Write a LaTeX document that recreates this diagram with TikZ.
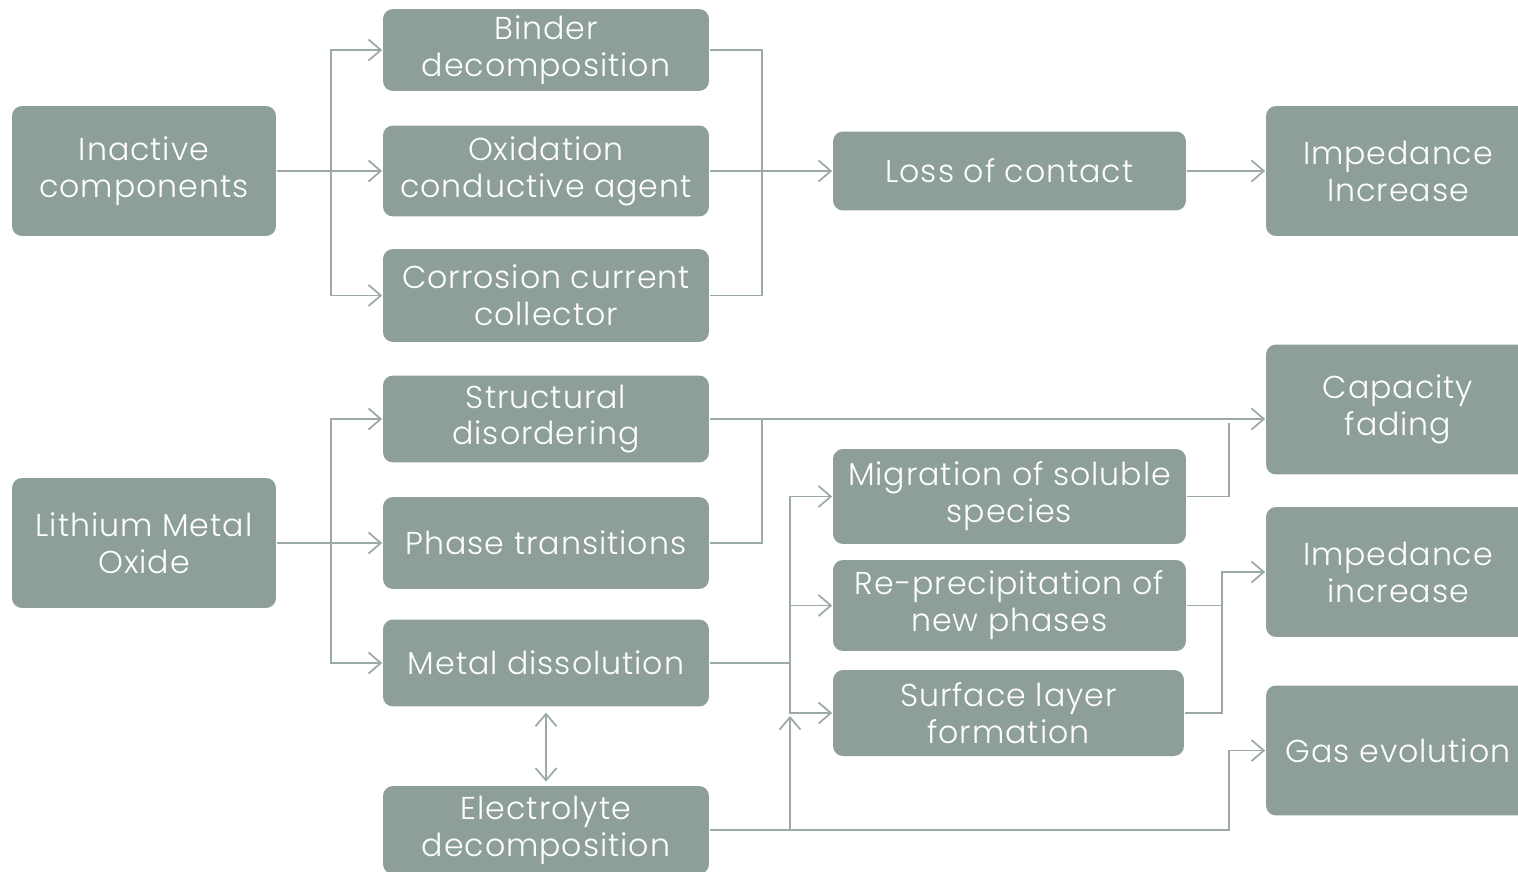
\documentclass[tikz,border=0pt]{standalone}
\usepackage{fontspec}
\setmainfont{Poppins}[UprightFont=* Light,LetterSpace=3]
\usetikzlibrary{arrows.meta}
\definecolor{boxgray}{HTML}{8E9E99}
\definecolor{linegray}{HTML}{9BAAA5}

\begin{document}
\begin{tikzpicture}[x=0.02cm,y=-0.02cm,->,>={Straight Barb[length=7pt,width=12pt]},
  line width=1pt,color=linegray,
  box node/.style={rectangle,rounded corners=0.2cm,fill=boxgray,text=white,align=center,
    inner sep=0pt,font=\fontsize{18}{21}\selectfont},
  side node/.style={box node,minimum width=5.28cm,minimum height=2.6cm},
  mid node/.style={box node,minimum width=6.52cm,minimum height=1.76cm},
  wide node/.style={box node,minimum width=7.06cm,minimum height=1.82cm}]
  \useasboundingbox (0,0) rectangle (1518,872);
  \clip (0,0) rectangle (1518,872);

  \node[side node] (inac) at (144,171) {Inactive\\components};
  \node[mid node,minimum height=1.64cm] (bind) at (546,50) {Binder\\decomposition};
  \node[mid node,minimum height=1.82cm] (oxid) at (546,171) {Oxidation\\conductive agent};
  \node[mid node,minimum height=1.86cm] (corr) at (546,295.5) {Corrosion current\\collector};
  \node[wide node,minimum height=1.58cm] (loss) at (1009.5,171) {Loss of contact};
  \node[side node] (imp1) at (1398,171) {Impedance\\Increase};

  \node[side node] (lmo) at (144,543) {Lithium Metal\\Oxide};
  \node[mid node,minimum height=1.74cm] (struc) at (546,419) {Structural\\disordering};
  \node[mid node,minimum height=1.84cm] (phase) at (546,543) {Phase transitions};
  \node[mid node,minimum height=1.74cm] (metal) at (546,663) {Metal dissolution};
  \node[mid node] (elec) at (546,830) {Electrolyte\\decomposition};
  \node[wide node,minimum height=1.9cm] (migr) at (1009.5,496.5) {Migration of soluble\\species};
  \node[wide node] (repr) at (1009.5,605.5) {Re-precipitation of\\new phases};
  \node[wide node,minimum height=1.72cm,minimum width=7.02cm] (surf) at (1008.5,713) {Surface layer\\formation};
  \node[side node] (cap) at (1398,409.5) {Capacity\\fading};
  \node[side node] (imp2) at (1398,572) {Impedance\\increase};
  \node[side node] (gas) at (1398,750.5) {Gas evolution};

  \coordinate (a1) at (331,171);
  \coordinate (a2) at (762,171);
  \coordinate (b1) at (331,543);
  \coordinate (b2) at (762,419);
  \coordinate (b3) at (790,663);
  \coordinate (b4) at (790,716);
  \coordinate (b5) at (1229,423);
  \coordinate (b6) at (1222,572);
  \coordinate (b7) at (1229,830);

  \draw (inac) -- (oxid);
  \draw (a1) |- (bind);
  \draw (a1) |- (corr);
  \draw[-] (bind.east) -| (a2) |- (corr.east);
  \draw (oxid) -- (loss);
  \draw (loss) -- (imp1);

  \draw (lmo) -- (phase);
  \draw (b1) |- (struc);
  \draw (b1) |- (metal);
  \draw (struc.east) -- (struc.east -| cap.west);
  \draw[-] (phase.east) -| (b2);
  \draw[-] (metal.east) -- (b3);
  \draw (b3) |- (migr);
  \draw (b3) |- (repr);
  \draw (b3) |- (surf);
  \draw (elec.east) -| (b4);
  \draw (elec.east) -- (b7) |- (gas);
  \draw[-] (migr.east) -| (b5);
  \draw[-] (repr.east) -- (repr.east -| b6);
  \draw (surf.east) -| (b6) -- (imp2);
  \draw[<->,shorten <=3pt,shorten >=2pt] (metal) -- (elec);
\end{tikzpicture}
\end{document}
